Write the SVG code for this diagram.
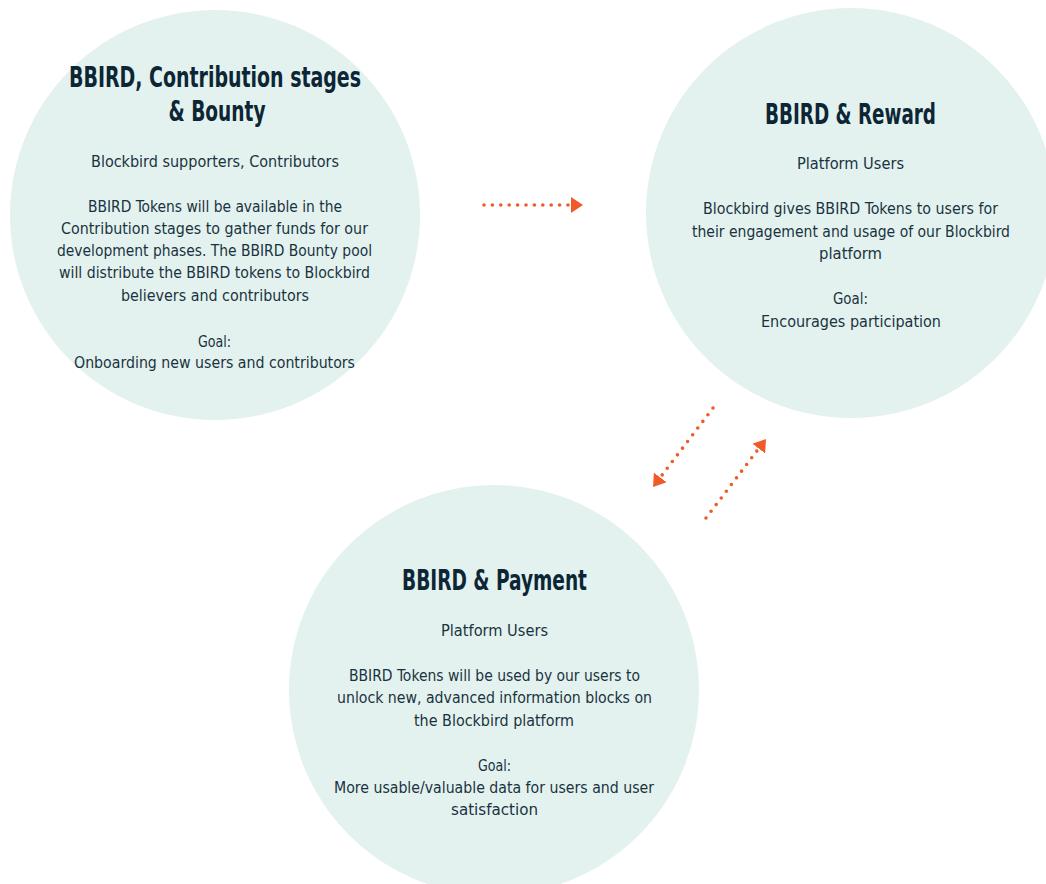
<svg xmlns="http://www.w3.org/2000/svg" width="1046" height="884" viewBox="0 0 1046 884">
  <defs>
    <style>
      .bubble { fill: #e3f2ef; }
      .title { font-family: "Liberation Sans Narrow", "DejaVu Sans Condensed", "Liberation Sans", sans-serif; font-weight: bold; font-size: 28px; fill: #0c2635; text-anchor: middle; }
      .body { font-family: "Liberation Sans Narrow", "DejaVu Sans Condensed", "Liberation Sans", sans-serif; font-size: 16.5px; fill: #1a3240; text-anchor: middle; }
      .flow { fill: none; stroke: #f05a28; stroke-width: 3.6; stroke-linecap: round; stroke-dasharray: 0 8.4; }
    </style>
    <marker id="head" markerUnits="userSpaceOnUse" viewBox="0 0 12 16" refX="12" refY="8" markerWidth="12" markerHeight="16" orient="auto">
      <path d="M0,0 L12,8 L0,16 Z" fill="#f05a28"/>
    </marker>
  </defs>
  <rect width="1046" height="884" fill="#ffffff"/>

  <g id="node-contribution">
    <circle class="bubble" cx="215" cy="215" r="205"/>
    <text class="title" x="215" y="87" textLength="292" lengthAdjust="spacingAndGlyphs">BBIRD, Contribution stages</text>
    <text class="title" x="217" y="121" textLength="97" lengthAdjust="spacingAndGlyphs">&amp; Bounty</text>
    <text class="body" x="215" y="167" textLength="248" lengthAdjust="spacingAndGlyphs">Blockbird supporters, Contributors</text>
    <text class="body" x="215" y="212" textLength="254" lengthAdjust="spacingAndGlyphs">BBIRD Tokens will be available in the</text>
    <text class="body" x="214.5" y="234" textLength="307" lengthAdjust="spacingAndGlyphs">Contribution stages to gather funds for our</text>
    <text class="body" x="214.5" y="256" textLength="315" lengthAdjust="spacingAndGlyphs">development phases. The BBIRD Bounty pool</text>
    <text class="body" x="214.5" y="278" textLength="311" lengthAdjust="spacingAndGlyphs">will distribute the BBIRD tokens to Blockbird</text>
    <text class="body" x="215" y="301" textLength="188" lengthAdjust="spacingAndGlyphs">believers and contributors</text>
    <text class="body" x="214.5" y="347" textLength="33" lengthAdjust="spacingAndGlyphs">Goal:</text>
    <text class="body" x="214.5" y="368" textLength="281" lengthAdjust="spacingAndGlyphs">Onboarding new users and contributors</text>
  </g>

  <g id="node-reward">
    <circle class="bubble" cx="851" cy="213" r="205"/>
    <text class="title" x="850.5" y="124" textLength="171" lengthAdjust="spacingAndGlyphs">BBIRD &amp; Reward</text>
    <text class="body" x="850.5" y="169" textLength="107" lengthAdjust="spacingAndGlyphs">Platform Users</text>
    <text class="body" x="850.5" y="214" textLength="295" lengthAdjust="spacingAndGlyphs">Blockbird gives BBIRD Tokens to users for</text>
    <text class="body" x="851" y="237" textLength="318" lengthAdjust="spacingAndGlyphs">their engagement and usage of our Blockbird</text>
    <text class="body" x="850.5" y="259" textLength="63" lengthAdjust="spacingAndGlyphs">platform</text>
    <text class="body" x="850.5" y="304" textLength="35" lengthAdjust="spacingAndGlyphs">Goal:</text>
    <text class="body" x="851" y="327" textLength="180" lengthAdjust="spacingAndGlyphs">Encourages participation</text>
  </g>

  <g id="node-payment">
    <circle class="bubble" cx="494" cy="690" r="205"/>
    <text class="title" x="494.5" y="590" textLength="185" lengthAdjust="spacingAndGlyphs">BBIRD &amp; Payment</text>
    <text class="body" x="494.5" y="636" textLength="107" lengthAdjust="spacingAndGlyphs">Platform Users</text>
    <text class="body" x="494.5" y="681" textLength="291" lengthAdjust="spacingAndGlyphs">BBIRD Tokens will be used by our users to</text>
    <text class="body" x="494.5" y="703" textLength="315" lengthAdjust="spacingAndGlyphs">unlock new, advanced information blocks on</text>
    <text class="body" x="494" y="726" textLength="160" lengthAdjust="spacingAndGlyphs">the Blockbird platform</text>
    <text class="body" x="494.5" y="771" textLength="33" lengthAdjust="spacingAndGlyphs">Goal:</text>
    <text class="body" x="494" y="793" textLength="320" lengthAdjust="spacingAndGlyphs">More usable/valuable data for users and user</text>
    <text class="body" x="494.5" y="815" textLength="87" lengthAdjust="spacingAndGlyphs">satisfaction</text>
  </g>

  <g id="connectors">
    <path class="flow" d="M484,205 L583,205" marker-end="url(#head)"/>
    <path class="flow" d="M713,408 L653,487" marker-end="url(#head)"/>
    <path class="flow" d="M706,518 L766,439" marker-end="url(#head)"/>
  </g>
</svg>
